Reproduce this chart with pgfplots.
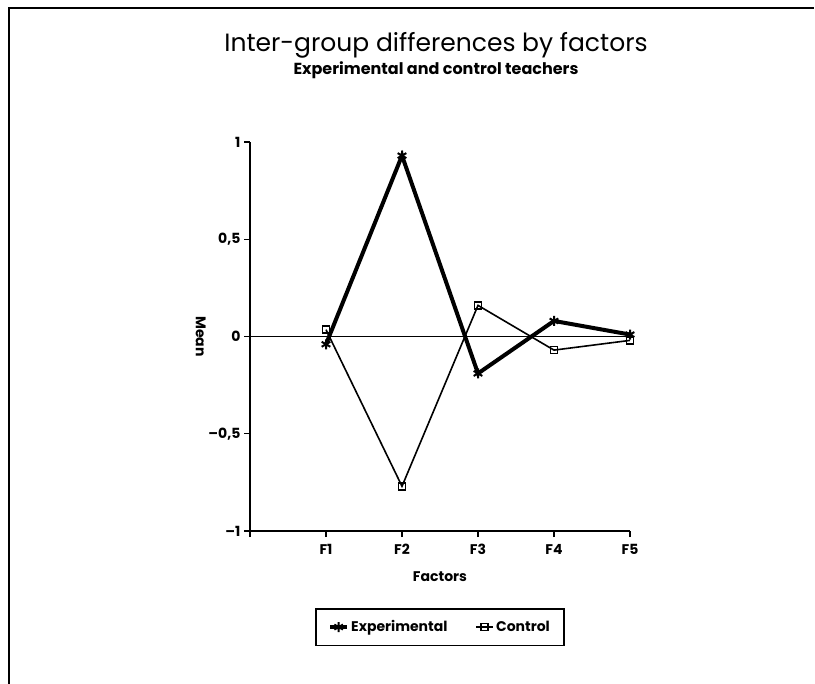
\documentclass[border=0pt]{standalone}
\usepackage{fontspec}
\setmainfont{Poppins}
\usepackage{pgfplots}
\pgfplotsset{compat=1.18}
\begin{document}
\begin{tikzpicture}[x=1pt,y=1pt]
\useasboundingbox (0,0) rectangle (815,-684);
\draw[line width=2.5pt] (9,-684) -- (9,-8) -- (814,-8);
\node[font=\fontsize{25}{29}\selectfont] at (436,-45) {Inter-group differences by factors};
\node[font=\bfseries\fontsize{16}{19}\selectfont] at (436,-70) {Experimental and control teachers};
\begin{axis}[
  at={(250pt,-531pt)}, anchor=south west,
  scale only axis, width=380pt, height=389pt,
  xmin=0, xmax=5, ymin=-1, ymax=1,
  axis x line*=bottom, axis y line*=left,
  axis line style={line width=1.6pt, -},
  xtick={0,1,2,3,4,5}, xticklabels={{},F1,F2,F3,F4,F5},
  ytick={-1,-0.5,0,0.5,1}, yticklabels={{--1},{--0,5},0,{0,5},1},
  tick align=outside, major tick length=6pt,
  tick style={line width=1.4pt, black},
  ticklabel style={font=\bfseries\fontsize{14}{16}\selectfont},
  xticklabel style={yshift=-4pt},
  xlabel={Factors}, ylabel={Mean},
  xlabel style={font=\bfseries\fontsize{14}{16}\selectfont, yshift=-10pt},
  ylabel style={font=\bfseries\fontsize{14}{16}\selectfont, rotate=180, yshift=4pt},
  legend columns=2,
  legend style={at={(0.5,-0.247)}, anchor=center, draw=black, line width=1.6pt,
    font=\bfseries\fontsize{14}{16}\selectfont, inner xsep=12pt, inner ysep=10pt,
    /tikz/every even column/.append style={column sep=26pt}},
  legend cell align=left,
  clip=false,
]
\addplot[black, line width=1pt, forget plot] coordinates {(0,0) (5,0)};
\addplot[black, line width=4pt, mark=asterisk, mark size=5pt, mark options={line width=2pt}]
  coordinates {(1,-0.04) (2,0.93) (3,-0.19) (4,0.08) (5,0.01)};
\addlegendentry{Experimental}
\addplot[black, line width=1.6pt, mark=square, mark size=3.5pt, mark options={fill=white, line width=1.6pt}]
  coordinates {(1,0.035) (2,-0.77) (3,0.16) (4,-0.07) (5,-0.02)};
\addlegendentry{Control}
\end{axis}
\end{tikzpicture}
\end{document}
